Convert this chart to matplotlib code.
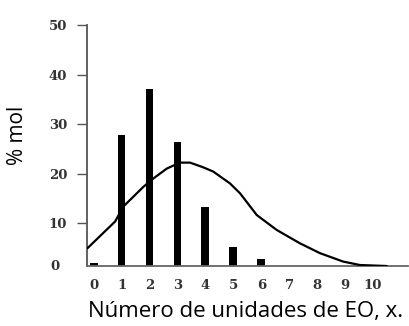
import matplotlib
matplotlib.use("Agg")
import matplotlib.pyplot as plt

# Data
bar_x = [0, 1, 2, 3, 4, 5, 6]
bar_y = [2.0, 27.8, 37.1, 26.4, 13.2, 5.2, 2.7]

curve_x = [-0.22, 0.77, 1.06, 1.78, 2.14, 2.62, 3.09, 3.45, 3.9, 4.28, 4.88,
           5.24, 5.84, 6.55, 7.38, 8.1, 8.93, 9.53, 10.49]
curve_y = [4.9, 10.3, 13.3, 17.3, 19.0, 21.0, 22.2, 22.2, 21.3, 20.4, 18.0,
           16.0, 11.6, 8.6, 5.9, 3.9, 2.2, 1.5, 1.3]

x_ticks = list(range(0, 11))
x_ticklabels = [str(v) for v in x_ticks]
y_ticks = [10, 20, 30, 40, 50]
y_ticklabels = ["10", "20", "30", "40", "50"]

fig = plt.figure(figsize=(4.1, 3.26), dpi=100)
ax = fig.add_axes([0.213, 0.184, 0.782, 0.739])

ax.bar(bar_x, bar_y, width=0.28, color="black", zorder=2)
ax.plot(curve_x, curve_y, color="black", lw=1.6, zorder=3, solid_capstyle="round")

ymin = 1.3
ax.set_xlim(-0.225, 11.25)
ax.set_ylim(ymin, 50)

for s in ["top", "right"]:
    ax.spines[s].set_visible(False)
ax.spines["left"].set_color("#555555")
ax.spines["bottom"].set_color("#666666")
ax.spines["left"].set_linewidth(1.3)
ax.spines["bottom"].set_linewidth(1.3)

tick_font = dict(family="DejaVu Serif", weight="bold", size=9.5)

ax.set_yticks(y_ticks)
ax.set_yticklabels(y_ticklabels)
ax.tick_params(axis="y", length=7.5, width=1.0, color="#555555", pad=7,
               labelcolor="#333333")
ax.set_xticks(x_ticks)
ax.set_xticklabels(x_ticklabels)
ax.tick_params(axis="x", length=0, pad=9.5, labelcolor="#333333")
for lbl in ax.get_xticklabels() + ax.get_yticklabels():
    lbl.set_fontweight("bold")
    lbl.set_family("DejaVu Serif")
    lbl.set_fontsize(9.5)

# zero label at baseline (no tick mark)
ax.annotate("0", xy=(0, ymin), xycoords=("axes fraction", "data"),
            xytext=(-20, 0), textcoords="offset points", ha="right", va="center",
            color="#333333", **tick_font)

fig.text(18 / 410, 1 - 135 / 326, "% mol", rotation=90, ha="center", va="center",
         fontsize=15, family="Open Sans")
fig.text(245.5 / 410, 1 - 312 / 326, "Número de unidades de EO, x.", ha="center",
         va="center", fontsize=16, family="Open Sans")

fig.savefig("out.png", dpi=100)
